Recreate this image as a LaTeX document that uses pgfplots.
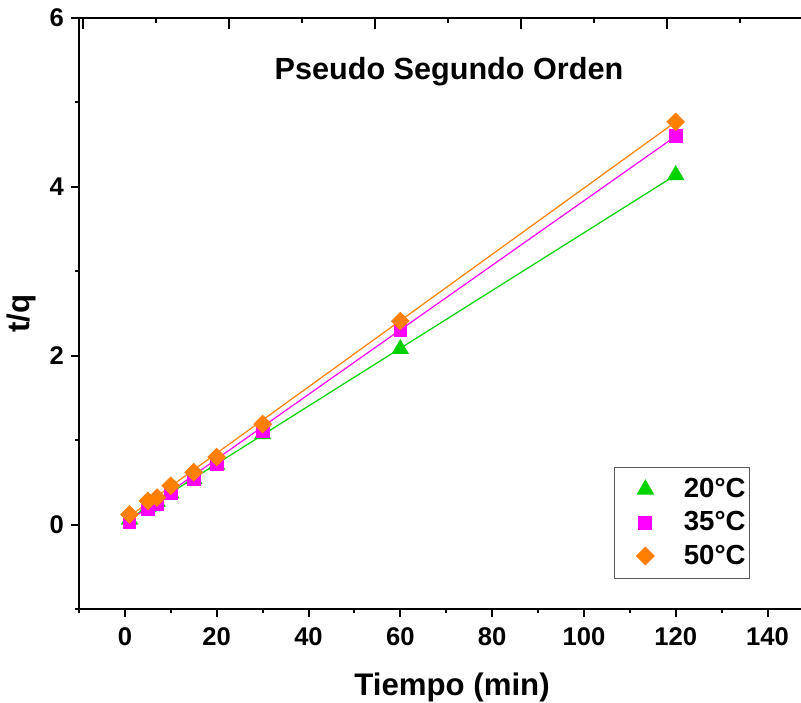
\documentclass[border=0pt]{standalone}
\usepackage{fontspec}
\setmainfont{Liberation Sans}
\usepackage{pgfplots}
\pgfplotsset{compat=1.18}
\definecolor{cgreen}{RGB}{0,210,0}
\definecolor{cmag}{RGB}{255,0,255}
\definecolor{corange}{RGB}{255,128,0}
\begin{document}
\begin{tikzpicture}
\begin{axis}[
 at={(0,0)}, anchor=south west, scale only axis, width=361pt, height=295.5pt,
 xmin=-10, xmax=147.3, ymin=-1, ymax=6,
 axis x line*=bottom, axis y line*=left,
 axis line style={-, line width=1pt},
 xtick={0,20,...,140}, minor xtick={-10,10,...,130},
 ytick={0,2,4,6}, minor ytick={-1,1,3,5},
 tick align=outside, major tick length=4pt, minor tick length=2pt,
 every tick/.style={black, line width=1pt},
 ticklabel style={font=\fontsize{12.8}{14}\selectfont\bfseries},
 xticklabel style={yshift=-2pt},
 /pgf/number format/assume math mode=true,
 xlabel={Tiempo (min)}, ylabel={t/q},
 label style={font=\fontsize{15.6}{18}\selectfont\bfseries},
 xlabel style={xshift=6pt, yshift=-6.5pt},
 legend cell align=right,
 legend style={at={(axis cs:136.2,-0.64)}, anchor=south east, draw=gray!70!black, line width=0.5pt,
   font=\fontsize{13.8}{16}\selectfont\bfseries, inner xsep=0pt, inner ysep=3.5pt, row sep=1.5pt},
 legend image code/.code={\draw[#1, only marks] plot coordinates {(0pt,0pt)}; \path (-15pt,0pt) (17pt,0pt);},
]
\addplot[only marks, mark=triangle*, mark size=4.6pt, color=cgreen] coordinates {
(1,0.06) (5,0.21) (7,0.27) (10,0.37) (15,0.54) (20,0.71) (30,1.07) (60,2.08) (120,4.14)};
\addlegendentry{20°C}
\addplot[only marks, mark=square*, mark size=3.2pt, color=cmag] coordinates {
(1,0.03) (5,0.19) (7,0.24) (10,0.37) (15,0.54) (20,0.72) (30,1.11) (60,2.30) (120,4.60)};
\addlegendentry{35°C}
\addplot[only marks, mark=square*, mark size=3.1pt, mark options={rotate=45}, color=corange] coordinates {
(1,0.12) (5,0.28) (7,0.32) (10,0.46) (15,0.62) (20,0.80) (30,1.19) (60,2.41) (120,4.77)};
\addlegendentry{50°C}
\addplot[cgreen, line width=0.6pt, forget plot] coordinates {(1,0.07) (120,4.14)};
\addplot[cmag, line width=0.6pt, forget plot] coordinates {(1,0.05) (120,4.60)};
\addplot[corange, line width=0.6pt, forget plot] coordinates {(1,0.10) (120,4.77)};
\node[font=\fontsize{15.3}{17}\selectfont\bfseries] at (axis cs:70.6,5.37) {Pseudo Segundo Orden};
\end{axis}
\begin{axis}[
 at={(0,0)}, anchor=south west, scale only axis, width=361pt, height=295.5pt,
 xmin=-10, xmax=147.3, ymin=-1, ymax=6,
 axis x line*=top, axis y line=none,
 axis line style={-, line width=1pt},
 xtick={-9.15,22.7,54.5,86.3,118.1}, minor xtick={6.75,38.6,70.4,102.2,134},
 xticklabels={}, ytick=\empty,
 tick align=inside, major tick length=5.5pt, minor tick length=2.5pt,
 every tick/.style={black, line width=1pt},
]
\end{axis}
\pgfresetboundingbox
\path[use as bounding box] (-39.5pt,-46.5pt) rectangle (361pt,304.5pt);
\end{tikzpicture}
\end{document}
